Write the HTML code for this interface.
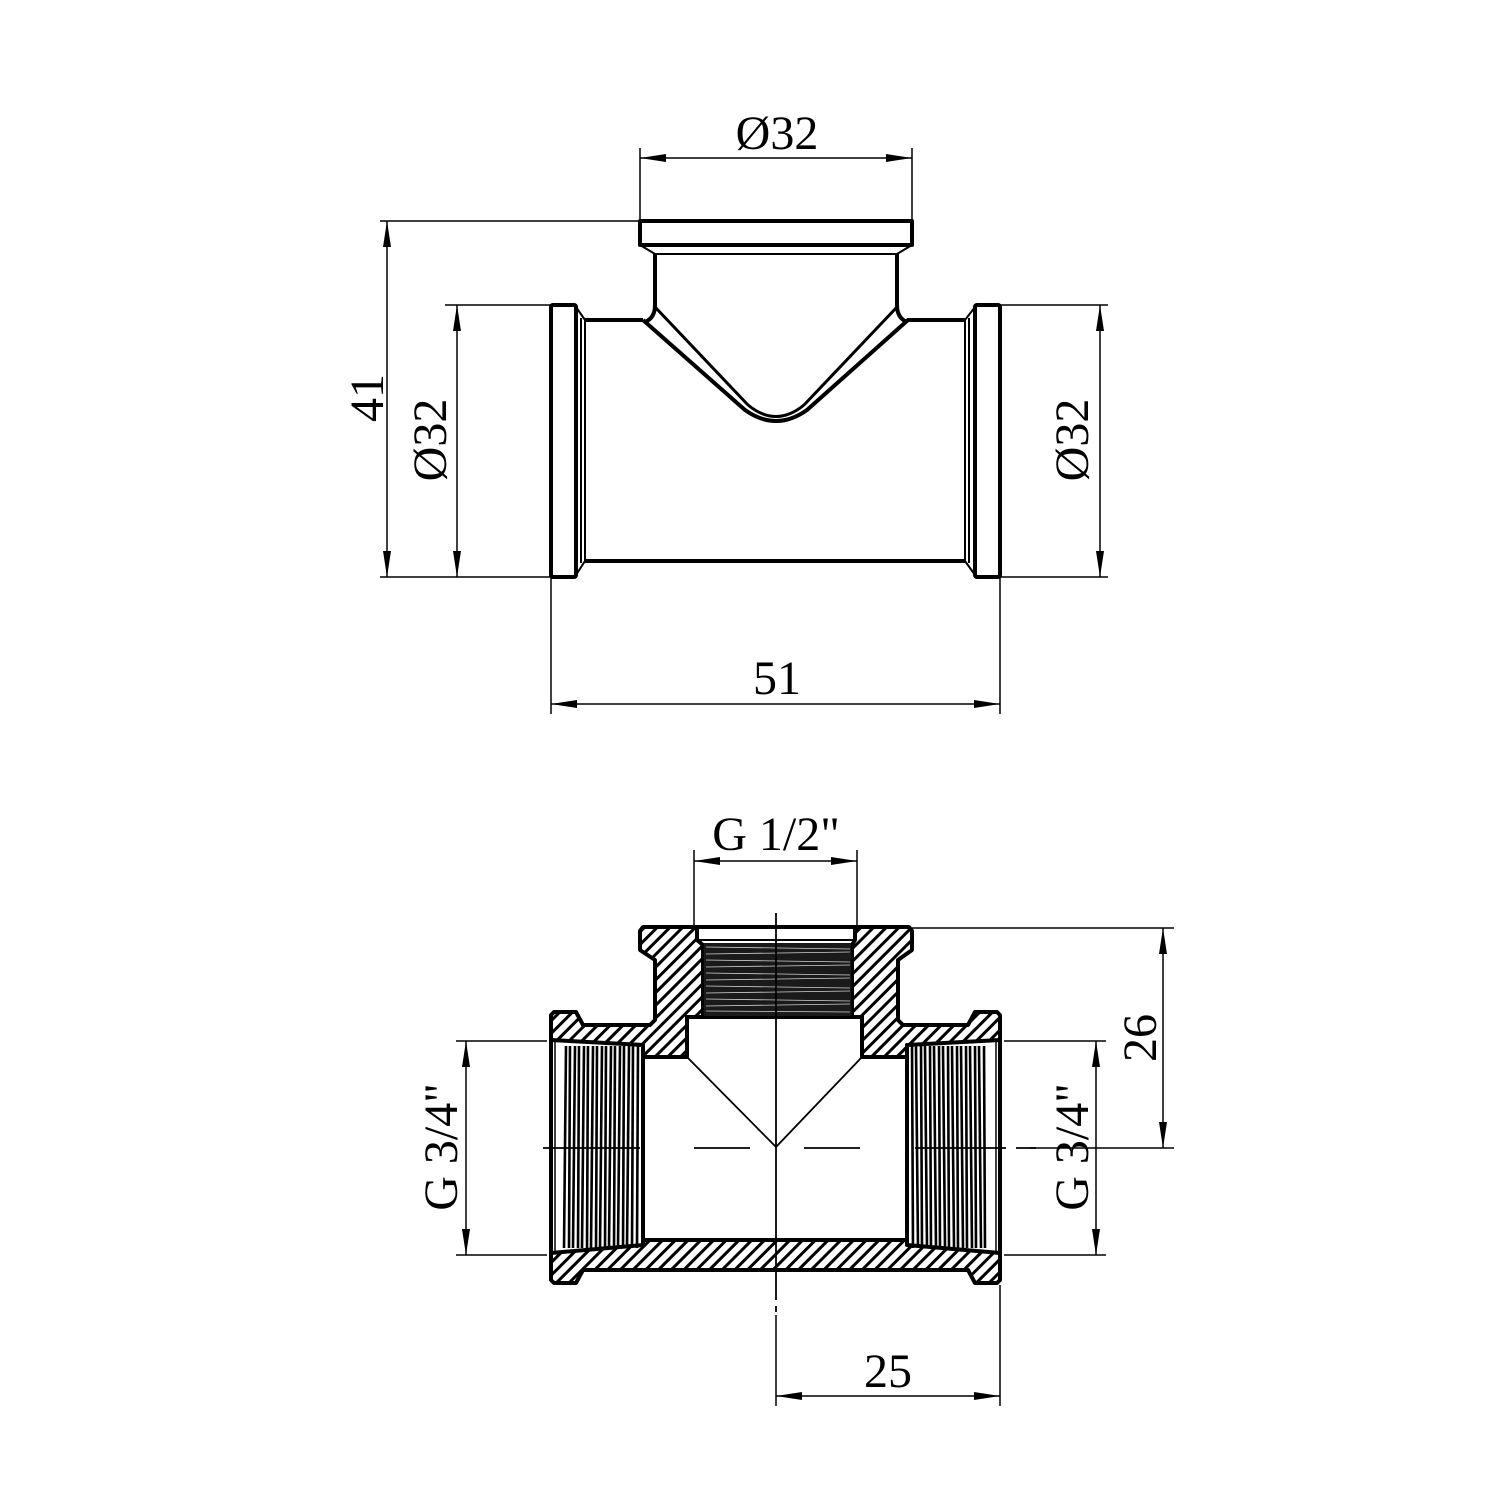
<!DOCTYPE html>
<html><head><meta charset="utf-8"><style>
html,body{margin:0;padding:0;background:#fff}
svg{display:block}
text{font-family:"Liberation Serif",serif;font-size:48px;fill:#000}
</style></head><body>
<svg width="1500" height="1500" viewBox="0 0 1500 1500" xmlns="http://www.w3.org/2000/svg">
<defs>
<pattern id="h" width="9" height="9" patternUnits="userSpaceOnUse" patternTransform="rotate(45)">
<rect width="9" height="9" fill="#fff"/>
<line x1="4.5" y1="-1" x2="4.5" y2="10" stroke="#000" stroke-width="3"/>
</pattern>
<marker id="a" viewBox="0 0 26 10" refX="26" refY="5" markerWidth="26" markerHeight="10" markerUnits="userSpaceOnUse" orient="auto-start-reverse">
<path d="M0,1 L26,5 L0,9 Z" fill="#000"/>
</marker>
</defs>

<g fill="none" stroke="#000" stroke-width="4" stroke-linejoin="round">
<rect x="640" y="221" width="272" height="24"/>
<path d="M640,245 L655,254 L897,254 L912,245" stroke-width="2"/>
<path d="M655,254 L655,305 Q655,318 645,322 M897,254 L897,305 Q897,318 907,322"/>
<path d="M585,320 L643,320 M907,320 L965,320"/>
<line x1="585" y1="561" x2="965" y2="561"/>
<rect x="551" y="305" width="25" height="272" rx="2"/>
<rect x="975" y="305" width="25" height="272" rx="2"/>
<path d="M576,307 L585,320 L585,561 L576,575" stroke-width="2"/>
<path d="M975,307 L965,320 L965,561 L975,575" stroke-width="2"/>
<line x1="581" y1="318" x2="581" y2="563" stroke-width="2"/>
<line x1="969" y1="318" x2="969" y2="563" stroke-width="2"/>
<path d="M643,320 L745,410 Q776,432 807,410 L908,320"/>
<path d="M655,307 L748,405 Q776,428 804,405 L897,307" stroke-width="3"/>
</g>

<g stroke="#000" stroke-width="1.5" fill="none">
<line x1="640" y1="148" x2="640" y2="221"/>
<line x1="912" y1="148" x2="912" y2="221"/>
<line x1="640" y1="158" x2="912" y2="158" marker-start="url(#a)" marker-end="url(#a)"/>
<line x1="380" y1="221" x2="640" y2="221"/>
<line x1="380" y1="577" x2="551" y2="577"/>
<line x1="387" y1="221" x2="387" y2="577" marker-start="url(#a)" marker-end="url(#a)"/>
<line x1="445" y1="305" x2="551" y2="305"/>
<line x1="457" y1="305" x2="457" y2="577" marker-start="url(#a)" marker-end="url(#a)"/>
<line x1="1000" y1="305" x2="1108" y2="305"/>
<line x1="1000" y1="577" x2="1108" y2="577"/>
<line x1="1100" y1="305" x2="1100" y2="577" marker-start="url(#a)" marker-end="url(#a)"/>
<line x1="551" y1="577" x2="551" y2="714"/>
<line x1="1000" y1="577" x2="1000" y2="714"/>
<line x1="551" y1="704" x2="1000" y2="704" marker-start="url(#a)" marker-end="url(#a)"/>
</g>
<text x="777" y="149" text-anchor="middle">Ø32</text>
<text x="777" y="694" text-anchor="middle">51</text>
<text transform="translate(383,398) rotate(-90)" text-anchor="middle">41</text>
<text transform="translate(446,440) rotate(-90)" text-anchor="middle">Ø32</text>
<text transform="translate(1088,440) rotate(-90)" text-anchor="middle">Ø32</text>

<path fill="url(#h)" fill-rule="evenodd" stroke="#000" stroke-width="4" stroke-linejoin="round"
d="M643,927 L909,927 L912,931 L912,950 L898,960 L898,1020 L903,1025 L968,1025 L975,1012 L997,1012 L1000,1015 L1000,1280 L997,1283 L975,1283 L968,1270 L583,1270 L576,1283 L554,1283 L551,1280 L551,1015 L554,1012 L576,1012 L583,1025 L650,1025 L655,1020 L655,960 L640,950 L640,931 Z
M697,927 L855,927 L855,940 L852,945 L852,1017 L862,1017 L862,1057 L907,1057 L907,1045 L1000,1040 L1000,1253 L907,1245 L907,1240 L643,1240 L643,1245 L551,1253 L551,1040 L643,1045 L643,1057 L687,1057 L687,1017 L703,1017 L703,945 L697,940 Z"/>
<g fill="none" stroke="#000" stroke-width="4">
<path d="M687,1017 L687,1057 L643,1057 L643,1240 L907,1240 L907,1057 L862,1057 L862,1017 Z"/>
<line x1="697" y1="940" x2="855" y2="940" stroke-width="2"/>
</g>
<rect x="704" y="943" width="147" height="73" fill="#1a1a1a"/>
<g stroke="#fff" stroke-width="0.8" opacity="0.8">
<line x1="706" y1="947" x2="850" y2="949"/><line x1="706" y1="954" x2="850" y2="952"/>
<line x1="706" y1="960" x2="850" y2="962"/><line x1="706" y1="967" x2="850" y2="965"/>
<line x1="706" y1="973" x2="850" y2="975"/><line x1="706" y1="980" x2="850" y2="978"/>
<line x1="706" y1="986" x2="850" y2="988"/><line x1="706" y1="993" x2="850" y2="991"/>
<line x1="706" y1="999" x2="850" y2="1001"/><line x1="706" y1="1006" x2="850" y2="1004"/>
<line x1="706" y1="1011" x2="850" y2="1012"/>
</g>
<g stroke="#000" stroke-width="2.6">
<line x1="555" y1="1040" x2="555" y2="1253" stroke-width="1.5"/>
<line x1="566" y1="1046" x2="564" y2="1248"/><line x1="570" y1="1046" x2="569" y2="1248"/>
<line x1="575" y1="1046" x2="573" y2="1248"/><line x1="579" y1="1046" x2="578" y2="1248"/>
<line x1="584" y1="1046" x2="582" y2="1248"/><line x1="588" y1="1046" x2="587" y2="1248"/>
<line x1="593" y1="1046" x2="591" y2="1248"/><line x1="597" y1="1046" x2="596" y2="1248"/>
<line x1="602" y1="1046" x2="600" y2="1248"/><line x1="606" y1="1046" x2="605" y2="1248"/>
<line x1="611" y1="1046" x2="609" y2="1248"/><line x1="615" y1="1046" x2="614" y2="1248"/>
<line x1="620" y1="1046" x2="618" y2="1248"/><line x1="624" y1="1046" x2="623" y2="1248"/>
<line x1="629" y1="1046" x2="627" y2="1248"/><line x1="633" y1="1046" x2="632" y2="1248"/>
<line x1="638" y1="1046" x2="637" y2="1248"/>
<line x1="996" y1="1040" x2="996" y2="1253" stroke-width="1.5"/>
<line x1="912" y1="1046" x2="913" y2="1248"/><line x1="916" y1="1046" x2="918" y2="1248"/>
<line x1="921" y1="1046" x2="922" y2="1248"/><line x1="925" y1="1046" x2="927" y2="1248"/>
<line x1="930" y1="1046" x2="931" y2="1248"/><line x1="934" y1="1046" x2="936" y2="1248"/>
<line x1="939" y1="1046" x2="940" y2="1248"/><line x1="943" y1="1046" x2="945" y2="1248"/>
<line x1="948" y1="1046" x2="949" y2="1248"/><line x1="952" y1="1046" x2="954" y2="1248"/>
<line x1="957" y1="1046" x2="958" y2="1248"/><line x1="961" y1="1046" x2="963" y2="1248"/>
<line x1="966" y1="1046" x2="967" y2="1248"/><line x1="970" y1="1046" x2="972" y2="1248"/>
<line x1="975" y1="1046" x2="976" y2="1248"/><line x1="979" y1="1046" x2="981" y2="1248"/>
<line x1="984" y1="1046" x2="985" y2="1248"/>
</g>
<g stroke="#000" stroke-width="1.8" fill="none">
<path d="M687,1057 L776,1147 L862,1057"/>
<line x1="776" y1="913" x2="776" y2="1300"/>
<line x1="776" y1="1306" x2="776" y2="1312"/>
<line x1="543" y1="1148" x2="640" y2="1148"/>
<line x1="694" y1="1148" x2="750" y2="1148"/>
<line x1="804" y1="1148" x2="860" y2="1148"/>
<line x1="915" y1="1148" x2="1006" y2="1148"/>
<line x1="1016" y1="1148" x2="1036" y2="1148"/>
</g>
<g stroke="#000" stroke-width="1.5" fill="none">
<line x1="694" y1="850" x2="694" y2="927"/>
<line x1="857" y1="850" x2="857" y2="927"/>
<line x1="694" y1="861" x2="857" y2="861" marker-start="url(#a)" marker-end="url(#a)"/>
<line x1="912" y1="928" x2="1174" y2="928"/>
<line x1="1030" y1="1148" x2="1174" y2="1148"/>
<line x1="1163" y1="928" x2="1163" y2="1148" marker-start="url(#a)" marker-end="url(#a)"/>
<line x1="456" y1="1041" x2="547" y2="1041"/>
<line x1="456" y1="1255" x2="547" y2="1255"/>
<line x1="466" y1="1041" x2="466" y2="1255" marker-start="url(#a)" marker-end="url(#a)"/>
<line x1="1004" y1="1041" x2="1106" y2="1041"/>
<line x1="1004" y1="1255" x2="1106" y2="1255"/>
<line x1="1096" y1="1041" x2="1096" y2="1255" marker-start="url(#a)" marker-end="url(#a)"/>
<line x1="776" y1="1315" x2="776" y2="1406"/>
<line x1="1000" y1="1285" x2="1000" y2="1406"/>
<line x1="776" y1="1396" x2="1000" y2="1396" marker-start="url(#a)" marker-end="url(#a)"/>
</g>
<text x="776" y="850" text-anchor="middle">G 1/2"</text>
<text x="888" y="1387" text-anchor="middle">25</text>
<text transform="translate(1156,1038) rotate(-90)" text-anchor="middle">26</text>
<text transform="translate(457,1147) rotate(-90)" text-anchor="middle">G 3/4"</text>
<text transform="translate(1088,1147) rotate(-90)" text-anchor="middle">G 3/4"</text>
</svg>
</body></html>
